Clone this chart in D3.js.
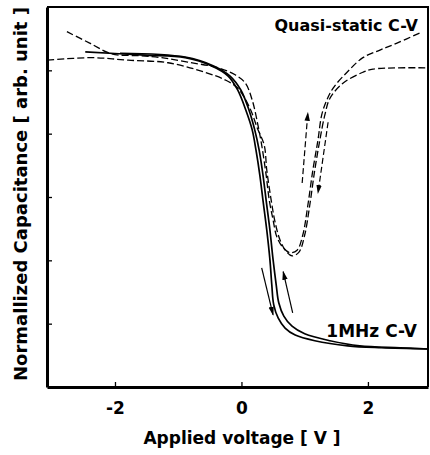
<!DOCTYPE html>
<html>
<head>
<meta charset="utf-8">
<script src="https://cdn.jsdelivr.net/npm/d3@7"></script>
<style>
  body { margin: 0; background: #fff; }
  svg { display: block; }
  text { font-family: "DejaVu Sans", "Liberation Sans", Arial, sans-serif; font-weight: bold; fill: #000; }
</style>
</head>
<body>
<svg id="chart" width="430" height="455"></svg>
<script>
// 1MHz C-V, sweep down (left curve) and sweep up
var hfDown = [
  [-2.47, 5.29], [-1.53, 5.24], [-0.89, 5.20], [-0.47, 5.07], [-0.21, 4.91],
  [-0.06, 4.69], [0.07, 4.37], [0.17, 4.06], [0.23, 3.74], [0.29, 3.35],
  [0.34, 2.95], [0.40, 2.48], [0.45, 2.01], [0.48, 1.61], [0.51, 1.30],
  [0.58, 1.09], [0.69, 0.93], [0.85, 0.82], [1.16, 0.73], [1.68, 0.65],
  [2.22, 0.62], [2.95, 0.60]
];
var hfUp = [
  [-1.92, 5.27], [-0.89, 5.21], [-0.44, 5.07], [-0.18, 4.91], [-0.01, 4.69],
  [0.12, 4.37], [0.21, 4.06], [0.28, 3.74], [0.34, 3.35], [0.39, 2.95],
  [0.45, 2.48], [0.50, 2.01], [0.55, 1.61], [0.59, 1.33], [0.67, 1.12],
  [0.80, 0.96], [1.00, 0.84], [1.40, 0.73], [1.87, 0.65], [2.51, 0.62],
  [2.95, 0.60]
];

// quasi-static C-V, two sweeps
var qsA = [
  [-2.76, 5.61], [-2.40, 5.43], [-2.05, 5.26], [-1.61, 5.23], [-1.26, 5.20],
  [-0.85, 5.13], [-0.37, 5.04], [-0.10, 4.93], [0.06, 4.80], [0.17, 4.53],
  [0.26, 4.14], [0.32, 3.82], [0.39, 3.35], [0.44, 2.95], [0.50, 2.64],
  [0.56, 2.37], [0.66, 2.20], [0.77, 2.12], [0.88, 2.16], [0.97, 2.40],
  [1.05, 2.87], [1.13, 3.43], [1.21, 3.90], [1.27, 4.30], [1.35, 4.53],
  [1.45, 4.72], [1.67, 4.97], [1.92, 5.20], [2.19, 5.32], [2.46, 5.43],
  [2.82, 5.59]
];
var qsB = [
  [-3.07, 5.16], [-2.36, 5.20], [-1.79, 5.16], [-1.16, 5.12], [-0.58, 4.97],
  [-0.26, 4.85], [-0.06, 4.72], [0.13, 4.41], [0.25, 4.09], [0.36, 3.82],
  [0.40, 3.43], [0.47, 2.95], [0.53, 2.61], [0.61, 2.32], [0.70, 2.15],
  [0.80, 2.07], [0.91, 2.13], [1.00, 2.40], [1.08, 2.87], [1.16, 3.43],
  [1.24, 3.90], [1.32, 4.30], [1.40, 4.56], [1.61, 4.80], [1.92, 4.97],
  [2.08, 5.02], [2.93, 5.04]
];

// sweep direction arrows [from, to]
var solidArrows = [
  [[0.32, 1.88], [0.50, 1.14]],
  [[0.81, 1.17], [0.66, 1.82]]
];
var dashArrows = [
  [[0.96, 3.22], [1.05, 4.33]],
  [[1.37, 4.18], [1.21, 3.06]]
];

var xTicks = [-2, 0, 2];
var yTicks = [1, 2, 3, 4, 5];

var svg = d3.select("#chart");

var x = d3.scaleLinear().domain([-3.075, 2.95]).range([47, 428]);
var y = d3.scaleLinear().domain([0, 6]).range([387, 7]);

var line = d3.line()
  .x(function(d) { return x(d[0]); })
  .y(function(d) { return y(d[1]); })
  .curve(d3.curveCatmullRom.alpha(0.5));

svg.append("defs").append("marker")
  .attr("id", "head")
  .attr("viewBox", "0 0 10 10")
  .attr("refX", 9)
  .attr("refY", 5)
  .attr("markerWidth", 9)
  .attr("markerHeight", 9)
  .attr("markerUnits", "userSpaceOnUse")
  .attr("orient", "auto")
  .append("path")
  .attr("d", "M0,2 L10,5 L0,8 Z")
  .attr("fill", "#000");

// frame: top and right
svg.append("path")
  .attr("d", "M" + x.range()[0] + "," + y.range()[1] + "H" + x.range()[1] + "V" + y.range()[0])
  .attr("fill", "none")
  .attr("stroke", "#000")
  .attr("stroke-width", 2);

// axes, ticks pointing inward
svg.append("g")
  .attr("transform", "translate(0," + y.range()[0] + ")")
  .call(d3.axisBottom(x).tickValues(xTicks).tickSizeInner(-5).tickSizeOuter(0).tickPadding(15)
    .tickFormat(function(d) { return d; }))
  .call(function(g) {
    g.select(".domain").attr("stroke-width", 3);
    g.selectAll(".tick line").attr("stroke-width", 1.3);
    g.selectAll(".tick text").attr("font-size", 17).attr("font-family", null);
  });

svg.append("g")
  .attr("transform", "translate(" + x.range()[0] + ",0)")
  .call(d3.axisLeft(y).tickValues(yTicks).tickSizeInner(-5).tickSizeOuter(0).tickFormat(""))
  .call(function(g) {
    g.select(".domain").attr("stroke-width", 3);
    g.selectAll(".tick line").attr("stroke-width", 1.3);
  });

// curves
svg.append("g")
  .selectAll("path")
  .data([hfDown, hfUp])
  .enter().append("path")
  .attr("d", line)
  .attr("fill", "none")
  .attr("stroke", "#000")
  .attr("stroke-width", 1.7);

svg.append("g")
  .selectAll("path")
  .data([qsA, qsB])
  .enter().append("path")
  .attr("d", line)
  .attr("fill", "none")
  .attr("stroke", "#000")
  .attr("stroke-width", 1.3)
  .attr("stroke-dasharray", "7,3");

// arrows
svg.append("g")
  .selectAll("line")
  .data(solidArrows)
  .enter().append("line")
  .attr("x1", function(d) { return x(d[0][0]); })
  .attr("y1", function(d) { return y(d[0][1]); })
  .attr("x2", function(d) { return x(d[1][0]); })
  .attr("y2", function(d) { return y(d[1][1]); })
  .attr("stroke", "#000")
  .attr("stroke-width", 1.2)
  .attr("marker-end", "url(#head)");

svg.append("g")
  .selectAll("line")
  .data(dashArrows)
  .enter().append("line")
  .attr("x1", function(d) { return x(d[0][0]); })
  .attr("y1", function(d) { return y(d[0][1]); })
  .attr("x2", function(d) { return x(d[1][0]); })
  .attr("y2", function(d) { return y(d[1][1]); })
  .attr("stroke", "#000")
  .attr("stroke-width", 1.2)
  .attr("stroke-dasharray", "6,3")
  .attr("marker-end", "url(#head)");

// labels
svg.append("text")
  .attr("x", 418)
  .attr("y", 31)
  .attr("text-anchor", "end")
  .attr("font-size", 16)
  .text("Quasi-static C-V");

svg.append("text")
  .attr("x", 417)
  .attr("y", 337)
  .attr("text-anchor", "end")
  .attr("font-size", 17)
  .text("1MHz C-V");

svg.append("text")
  .attr("x", 242)
  .attr("y", 444)
  .attr("text-anchor", "middle")
  .attr("font-size", 17)
  .text("Applied voltage [ V ]");

svg.append("text")
  .attr("transform", "translate(27,194) rotate(-90)")
  .attr("text-anchor", "middle")
  .attr("font-size", 18)
  .text("Normallized Capacitance [ arb. unit ]");
</script>
</body>
</html>
